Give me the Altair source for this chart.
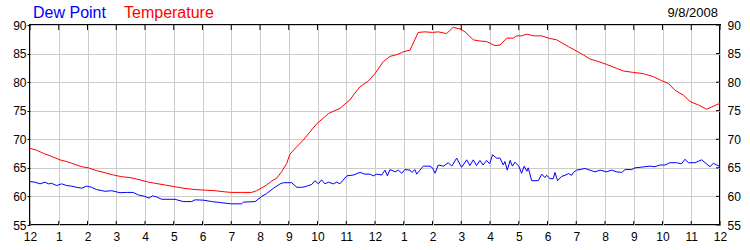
import altair as alt
import pandas as pd

# ---- data ----
temp_hours = [0.00, 0.23, 0.46, 0.70, 1.04, 1.28, 1.51, 1.80, 2.03, 2.32, 2.61, 2.90, 3.19, 3.48,
              3.83, 4.12, 4.35, 4.70, 5.04, 5.39, 5.74, 6.09, 6.43, 6.78, 7.01, 7.36, 7.71, 7.88,
              8.06, 8.23, 8.41, 8.58, 8.75, 8.93, 9.04, 9.28, 9.51, 9.74, 9.97, 10.20, 10.38,
              10.55, 10.78, 10.96, 11.13, 11.25, 11.48, 11.77, 12.00, 12.29, 12.52, 12.81, 12.98,
              13.22, 13.50, 13.74, 14.00, 14.20, 14.49, 14.72, 14.96, 15.13, 15.42, 15.65, 15.88,
              16.17, 16.35, 16.58, 16.81, 16.93, 17.10, 17.28, 17.51, 17.80, 18.03, 18.32, 18.73,
              19.01, 19.25, 19.48, 19.71, 20.06, 20.41, 20.64, 20.99, 21.33, 21.68, 21.97, 22.20,
              22.43, 22.72, 22.96, 23.25, 23.54, 23.77, 24.00]
temp_values = [68.4, 68.1, 67.55, 67.1, 66.4, 66.1, 65.7, 65.2, 65.0, 64.5, 64.15, 63.75, 63.45, 63.3,
               62.9, 62.5, 62.3, 62.0, 61.7, 61.4, 61.2, 61.1, 61.0, 60.8, 60.7, 60.7, 60.7, 61.0,
               61.5, 62.0, 62.7, 63.2, 64.3, 65.8, 67.4, 68.7, 69.9, 71.3, 72.7, 73.7, 74.5,
               74.9, 75.4, 76.2, 76.9, 77.75, 79.2, 80.2, 81.5, 83.6, 84.5, 84.9, 85.3,
               85.6, 88.7, 88.8, 88.7, 88.8, 88.5, 89.6, 89.3, 88.8, 87.4, 87.2, 87.1,
               86.4, 86.5, 87.7, 87.7, 88.1, 88.1, 88.4, 88.1, 88.1, 87.7, 87.4, 86.2,
               85.45, 84.75, 84.05, 83.7, 83.1, 82.4, 81.95, 81.7, 81.5, 80.95, 80.25, 79.8,
               78.6, 77.75, 76.6, 76.0, 75.25, 75.8, 76.3]

dew_hours = [0.00, 0.17, 0.35, 0.52, 0.64, 0.75, 0.93, 1.10, 1.28, 1.45, 1.62, 1.80, 1.97, 2.14,
             2.32, 2.61, 2.84, 3.13, 3.36, 3.59, 3.77, 4.00, 4.14, 4.26, 4.41, 4.58, 5.04, 5.33,
             5.62, 5.74, 6.03, 6.32, 6.67, 7.01, 7.36, 7.42, 7.83, 8.06, 8.23, 8.46, 8.70, 8.81,
             9.10, 9.28, 9.45, 9.57, 9.68, 9.80, 9.91, 10.03, 10.14, 10.26, 10.38, 10.55, 10.67,
             10.78, 11.02, 11.25, 11.48, 11.65, 11.83, 11.94, 12.06, 12.23, 12.35, 12.43, 12.52,
             12.70, 12.81, 12.93, 13.04, 13.22, 13.28, 13.39, 13.45, 13.68, 13.91, 14.00, 14.09,
             14.20, 14.38, 14.55, 14.67, 14.84, 15.01, 15.19, 15.30, 15.42, 15.53, 15.65, 15.76,
             15.88, 15.99, 16.09, 16.23, 16.35, 16.46, 16.52, 16.60, 16.70, 16.78, 16.87, 17.00,
             17.10, 17.19, 17.28, 17.33, 17.45, 17.68, 17.80, 17.91, 17.97, 18.09, 18.20, 18.26,
             18.35, 18.49, 18.61, 18.73, 18.84, 18.90, 19.01, 19.13, 19.30, 19.48, 19.65, 19.83,
             20.06, 20.23, 20.41, 20.58, 20.70, 20.93, 21.04, 21.22, 21.39, 21.57, 21.74, 21.91,
             22.09, 22.26, 22.49, 22.66, 22.78, 22.90, 23.13, 23.36, 23.65, 23.77, 24.00]
dew_values = [62.6, 62.5, 62.2, 62.5, 62.2, 62.3, 61.9, 62.2, 61.9, 61.8, 61.6, 61.45, 61.8, 61.6,
              61.2, 60.9, 61.0, 60.65, 60.7, 60.7, 60.25, 60.0, 59.7, 60.1, 59.9, 59.5, 59.5, 59.1,
              59.1, 59.4, 59.35, 59.1, 58.9, 58.7, 58.7, 59.0, 59.1, 60.0, 60.5, 61.4, 62.2, 62.4,
              62.4, 61.6, 61.6, 61.7, 61.9, 62.1, 62.75, 62.2, 62.9, 62.2, 62.5, 62.2, 62.5,
              62.2, 63.6, 63.75, 64.2, 63.9, 63.9, 63.6, 63.9, 63.75, 64.6, 63.6, 64.7,
              64.3, 64.6, 64.05, 64.7, 64.6, 64.2, 64.7, 63.9, 65.3, 65.3, 65.0, 64.05,
              65.5, 65.3, 65.9, 65.3, 66.7, 65.1, 66.4, 65.4, 66.4, 65.4, 66.3, 65.5,
              66.3, 65.7, 67.3, 66.7, 66.7, 65.5, 66.1, 64.6, 66.3, 65.3, 66.0, 65.3,
              64.05, 65.3, 64.4, 65.0, 62.75, 62.75, 63.9, 63.3, 63.7, 63.1, 63.1, 64.2,
              62.75, 63.5, 63.7, 64.0, 63.7, 64.2, 64.6, 64.7, 64.9, 64.6, 64.3, 64.6,
              64.3, 64.6, 64.3, 64.2, 64.7, 64.7, 65.0, 65.1, 65.2, 65.3, 65.2, 65.5,
              65.5, 65.9, 65.9, 65.7, 66.5, 65.9, 65.9, 66.4, 65.2, 65.8, 65.2]

hour_ticks = list(range(25))
hour_labels = ["12", "1", "2", "3", "4", "5", "6", "7", "8", "9", "10", "11",
               "12", "1", "2", "3", "4", "5", "6", "7", "8", "9", "10", "11", "12"]
y_ticks = [55, 60, 65, 70, 75, 80, 85, 90]
series_names = ["Dew Point", "Temperature"]
series_colors = ["#0000ff", "#ff0000"]
date_label = "9/8/2008"

FONT = "Liberation Sans"

df = pd.concat([
    pd.DataFrame({"hour": dew_hours, "value": dew_values, "series": series_names[0]}),
    pd.DataFrame({"hour": temp_hours, "value": temp_values, "series": series_names[1]}),
])
hour_df = pd.DataFrame({"hour": hour_ticks})
ytick_df = pd.DataFrame({"value": y_ticks})

x_scale = alt.Scale(domain=[0, 24], nice=False, zero=False)
y_scale = alt.Scale(domain=[55, 90], nice=False, zero=False)

# nested conditional label expression built from the label list
label_expr = "''"
for t, lab in reversed(list(zip(hour_ticks, hour_labels))):
    label_expr = f"(datum.value == {t} ? '{lab}' : {label_expr})"

x_axis = alt.Axis(
    values=hour_ticks, labelExpr=label_expr, orient="bottom", grid=True,
    gridColor="#cccccc", ticks=False, domain=False, labelPadding=6,
    labelFontSize=12, labelColor="black", labelFont=FONT, title=None,
    labelFlush=False, labelOverlap=False, tickCount=25)
x_enc = alt.X("hour:Q", scale=x_scale, axis=x_axis)

lines = alt.Chart(df).mark_line(strokeWidth=1).encode(
    x=x_enc,
    y=alt.Y("value:Q", scale=y_scale, axis=alt.Axis(
        values=y_ticks, orient="left", grid=True, gridColor="#cccccc",
        tickSize=3, tickColor="black", domain=False, labelPadding=1, labelFontSize=12,
        labelColor="black", labelFont=FONT, title=None, labelFlush=False)),
    color=alt.Color("series:N", scale=alt.Scale(domain=series_names, range=series_colors),
                    legend=None),
)

right_axis = alt.Chart(ytick_df).mark_rule(color="black", strokeWidth=1).encode(
    y=alt.Y("value:Q", scale=y_scale, axis=alt.Axis(
        values=y_ticks, orient="right", grid=False, ticks=False, domain=False,
        labelPadding=7, labelFontSize=12, labelColor="black", labelFont=FONT,
        title=None, labelFlush=False)),
    x=alt.value(686), x2=alt.value(690),
)

top_ticks = alt.Chart(hour_df).mark_rule(color="black", strokeWidth=1).encode(
    x=x_enc, y=alt.value(0), y2=alt.value(5),
)
bottom_ticks = alt.Chart(hour_df).mark_rule(color="black", strokeWidth=1).encode(
    x=x_enc, y=alt.value(196), y2=alt.value(200),
)

title1 = alt.Chart(alt.Data(values=[{"t": series_names[0]}])).mark_text(
    align="left", baseline="alphabetic", fontSize=16, font=FONT, color=series_colors[0]
).encode(text="t:N", x=alt.value(3), y=alt.value(-7))
title2 = alt.Chart(alt.Data(values=[{"t": series_names[1]}])).mark_text(
    align="left", baseline="alphabetic", fontSize=16, font=FONT, color=series_colors[1]
).encode(text="t:N", x=alt.value(94), y=alt.value(-7))
date_text = alt.Chart(alt.Data(values=[{"t": date_label}])).mark_text(
    align="right", baseline="alphabetic", fontSize=13, font=FONT, color="black"
).encode(text="t:N", x=alt.value(688), y=alt.value(-8))

chart = alt.layer(
    lines, right_axis, top_ticks, bottom_ticks, title1, title2, date_text
).properties(
    width=690, height=200,
    autosize=alt.AutoSizeParams(type="none"),
    padding={"left": 30, "top": 25, "right": 30, "bottom": 25},
    background="white",
).configure_view(stroke="black", strokeWidth=2)

chart.save("out.html", embed_options={"renderer": "svg", "actions": False})
